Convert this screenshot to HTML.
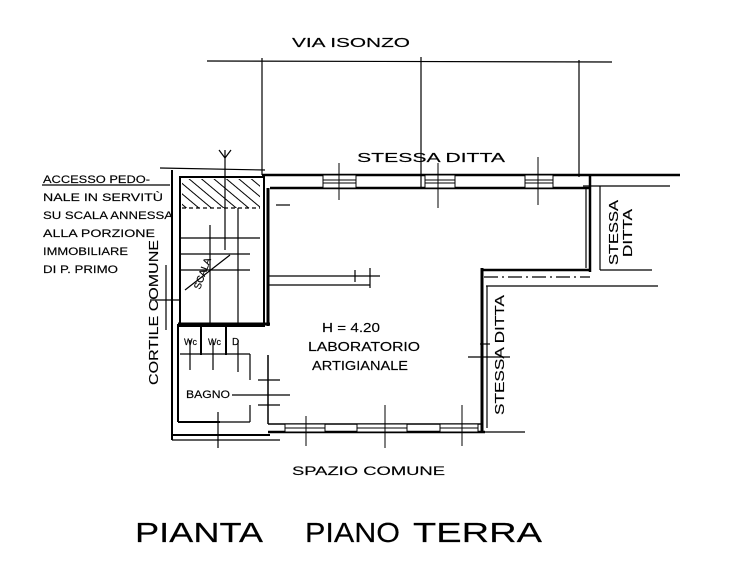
<!DOCTYPE html>
<html><head><meta charset="utf-8"><style>
html,body{margin:0;padding:0;background:#fff;}
svg{display:block}
text{font-family:"Liberation Sans",sans-serif;fill:#000;stroke:#000;stroke-width:0.15;}
</style></head><body>
<svg width="740" height="570" viewBox="0 0 740 570" xmlns="http://www.w3.org/2000/svg">
<defs>
<pattern id="h" width="8" height="8" patternUnits="userSpaceOnUse" patternTransform="rotate(-50)">
<line x1="0" y1="0" x2="0" y2="8" stroke="#000" stroke-width="2"/></pattern>
</defs>
<g stroke="#000" fill="none" stroke-width="1.2">
<line x1="207" y1="61" x2="612" y2="62"/>
<line x1="262" y1="58" x2="262" y2="175"/>
<line x1="421" y1="57" x2="421" y2="188"/>
<line x1="579" y1="60" x2="579" y2="177"/>
<line x1="262" y1="175" x2="680" y2="175" stroke-width="2.5"/>
<line x1="270" y1="188" x2="590" y2="188" stroke-width="2.5"/>
<line x1="583" y1="186" x2="670" y2="186"/>
<g stroke-width="1">
<rect x="323" y="175" width="33" height="13" fill="#fff"/><line x1="323" y1="180" x2="356" y2="180"/><line x1="323" y1="183" x2="356" y2="183"/><line x1="339" y1="163" x2="339" y2="200"/>
<rect x="425" y="175" width="30" height="13" fill="#fff"/><line x1="425" y1="180" x2="455" y2="180"/><line x1="425" y1="183" x2="455" y2="183"/><line x1="438" y1="163" x2="438" y2="208"/>
<rect x="525" y="175" width="28" height="13" fill="#fff"/><line x1="525" y1="180" x2="553" y2="180"/><line x1="525" y1="183" x2="553" y2="183"/><line x1="538" y1="157" x2="538" y2="205"/>
</g>
<line x1="590" y1="175" x2="590" y2="272" stroke-width="2.5"/>
<line x1="586" y1="188" x2="586" y2="268"/>
<line x1="600" y1="186" x2="600" y2="270"/>
<line x1="600" y1="270" x2="652" y2="270"/>
<line x1="482" y1="270" x2="590" y2="270" stroke-width="2.5"/>
<line x1="484" y1="277" x2="590" y2="277" stroke-dasharray="14 4 2 4"/>
<line x1="486" y1="286" x2="658" y2="286"/>
<line x1="482" y1="268" x2="482" y2="432" stroke-width="3"/>
<line x1="487" y1="286" x2="487" y2="428"/>
<line x1="468" y1="357" x2="510" y2="357"/>
<line x1="480" y1="344" x2="490" y2="344"/>
<line x1="268" y1="424" x2="482" y2="424" stroke-width="1.5"/>
<line x1="268" y1="432" x2="485" y2="432" stroke-width="2.5"/>
<line x1="485" y1="432" x2="525" y2="432"/>
<g stroke-width="1">
<rect x="285" y="424" width="40" height="8" fill="#fff"/><line x1="285" y1="428" x2="325" y2="428"/><line x1="306" y1="416" x2="306" y2="446"/>
<rect x="357" y="424" width="50" height="8" fill="#fff"/><line x1="357" y1="428" x2="407" y2="428"/><line x1="385" y1="405" x2="385" y2="448"/>
<rect x="440" y="424" width="38" height="8" fill="#fff"/><line x1="440" y1="428" x2="478" y2="428"/><line x1="462" y1="405" x2="462" y2="446"/>
</g>
<line x1="268" y1="188" x2="268" y2="326" stroke-width="3"/>
<line x1="264" y1="180" x2="264" y2="326"/>
<line x1="268" y1="355" x2="268" y2="424" stroke-width="1.5"/>
<line x1="258" y1="380" x2="280" y2="380"/><line x1="258" y1="405" x2="280" y2="405"/>
<line x1="268" y1="276" x2="380" y2="276"/><line x1="268" y1="285" x2="370" y2="285"/>
<line x1="370" y1="268" x2="370" y2="288"/><line x1="355" y1="270" x2="355" y2="282"/>
<line x1="276" y1="205" x2="290" y2="205"/>
<rect x="180" y="177" width="84" height="149" stroke-width="2"/>
<rect x="182" y="179" width="78" height="29" fill="url(#h)" stroke="none"/>
<line x1="182" y1="208" x2="260" y2="208" stroke-dasharray="4 3"/>
<line x1="225" y1="150" x2="225" y2="250"/>
<polyline points="219,150 225,158 231,150"/>
<line x1="180" y1="238" x2="260" y2="238"/>
<line x1="180" y1="254" x2="250" y2="254"/>
<line x1="180" y1="270" x2="250" y2="270"/>
<line x1="210" y1="225" x2="210" y2="326"/>
<line x1="238" y1="208" x2="238" y2="326"/>
<line x1="185" y1="290" x2="230" y2="255"/>
<line x1="178" y1="324" x2="270" y2="324" stroke-width="3"/>
<line x1="178" y1="324" x2="178" y2="422" stroke-width="2"/>
<line x1="178" y1="422" x2="220" y2="422" stroke-width="2"/>
<line x1="201" y1="324" x2="201" y2="355" stroke-width="2"/>
<line x1="226" y1="324" x2="226" y2="355" stroke-width="2"/>
<line x1="180" y1="354" x2="250" y2="354"/>
<line x1="190" y1="340" x2="190" y2="370"/><line x1="213" y1="340" x2="213" y2="370"/><line x1="238" y1="340" x2="238" y2="372"/>
<line x1="250" y1="354" x2="250" y2="380"/>
<line x1="250" y1="405" x2="250" y2="422"/>
<line x1="220" y1="422" x2="250" y2="422"/>
<line x1="232" y1="395" x2="290" y2="395"/>
<line x1="172" y1="435" x2="270" y2="435" stroke-width="2"/>
<line x1="172" y1="440" x2="280" y2="440"/>
<line x1="218" y1="412" x2="218" y2="448"/>
<line x1="172" y1="170" x2="172" y2="440" stroke-width="2"/>
<line x1="166" y1="265" x2="166" y2="330"/>
<line x1="150" y1="300" x2="180" y2="300"/>
<line x1="42" y1="185" x2="170" y2="185"/>
<line x1="160" y1="168" x2="265" y2="170"/>
</g>
<g font-size="11">
<text x="43" y="183" textLength="107" lengthAdjust="spacingAndGlyphs">ACCESSO PEDO-</text>
<text x="43" y="201" textLength="120" lengthAdjust="spacingAndGlyphs">NALE IN SERVITÙ</text>
<text x="43" y="219" textLength="130" lengthAdjust="spacingAndGlyphs">SU SCALA ANNESSA</text>
<text x="43" y="237" textLength="112" lengthAdjust="spacingAndGlyphs">ALLA PORZIONE</text>
<text x="43" y="255" textLength="85" lengthAdjust="spacingAndGlyphs">IMMOBILIARE</text>
<text x="43" y="273" textLength="75" lengthAdjust="spacingAndGlyphs">DI P. PRIMO</text>
</g>
<text transform="translate(158,385) rotate(-90)" font-size="13" textLength="145" lengthAdjust="spacingAndGlyphs">CORTILE  COMUNE</text>
<text x="292" y="47" font-size="13" textLength="118" lengthAdjust="spacingAndGlyphs">VIA  ISONZO</text>
<text x="357" y="162" font-size="13" textLength="148" lengthAdjust="spacingAndGlyphs">STESSA  DITTA</text>
<text transform="translate(618,265) rotate(-90)" font-size="13" textLength="65" lengthAdjust="spacingAndGlyphs">STESSA</text>
<text transform="translate(632,257) rotate(-90)" font-size="13" textLength="48" lengthAdjust="spacingAndGlyphs">DITTA</text>
<text transform="translate(504,415) rotate(-90)" font-size="13" textLength="120" lengthAdjust="spacingAndGlyphs">STESSA  DITTA</text>
<text x="322" y="332" font-size="13" textLength="58" lengthAdjust="spacingAndGlyphs">H = 4.20</text>
<text x="308" y="351" font-size="13" textLength="112" lengthAdjust="spacingAndGlyphs">LABORATORIO</text>
<text x="312" y="370" font-size="13" textLength="96" lengthAdjust="spacingAndGlyphs">ARTIGIANALE</text>
<text x="184" y="345" font-size="9">Wc</text><text x="208" y="345" font-size="9">Wc</text><text x="232" y="345" font-size="10">D</text>
<text x="186" y="398" font-size="11" textLength="44" lengthAdjust="spacingAndGlyphs">BAGNO</text>
<text x="292" y="475" font-size="12" textLength="153" lengthAdjust="spacingAndGlyphs">SPAZIO    COMUNE</text>
<text x="135" y="542" font-size="28" textLength="128" lengthAdjust="spacingAndGlyphs">PIANTA</text>
<text x="305" y="542" font-size="28" textLength="95" lengthAdjust="spacingAndGlyphs">PIANO</text>
<text x="413" y="542" font-size="28" textLength="129" lengthAdjust="spacingAndGlyphs">TERRA</text>
<g font-size="10" transform="translate(200,290) rotate(-70)"><text>SCALA</text></g>
</svg>
</body></html>
